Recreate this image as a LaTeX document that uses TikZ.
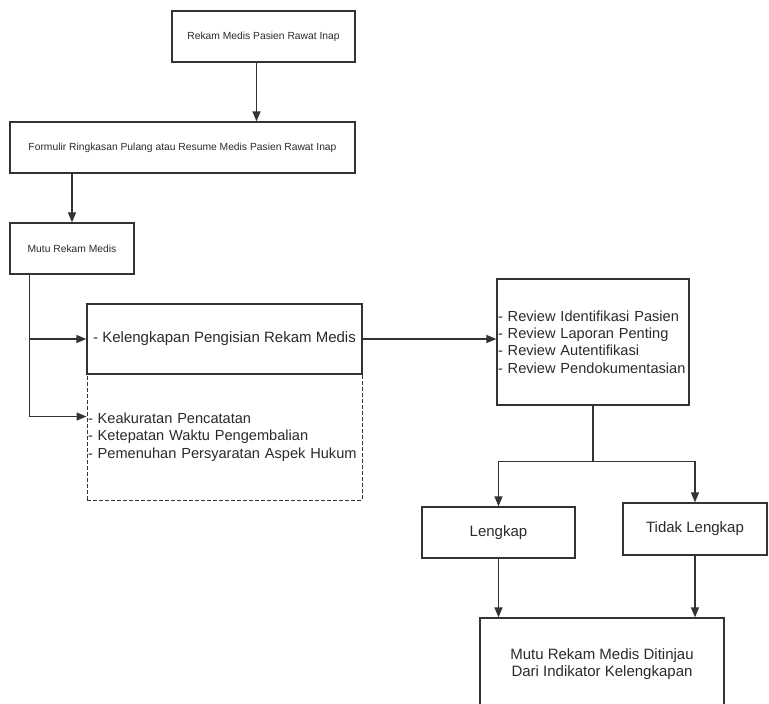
\documentclass[tikz,border=0pt]{standalone}
\usepackage{fontspec}
\setmainfont{Liberation Sans}
\usepackage{xcolor}
\usepackage{tikz}
\usetikzlibrary{arrows.meta, positioning, calc}

\definecolor{linegray}{HTML}{333333}
\definecolor{textgray}{HTML}{2A2A2A}

\begin{document}
\begin{tikzpicture}[
    x=1pt, y=-1pt,
    box/.style={rectangle, draw=linegray, line width=1.3pt, align=center, text=textgray, minimum height=51pt, inner sep=2pt},
    smallbox/.style={box, font=\fontsize{10.3}{12}\selectfont},
    bigbox/.style={box, font=\fontsize{15}{17.5}\selectfont},
    listbox/.style={box, font=\fontsize{14.6}{17.3}\selectfont, align=left, inner xsep=1pt},
    arr/.style={-{Triangle[length=10pt, width=8pt]}, draw=linegray, line width=1.3pt},
    link/.style={draw=linegray, line width=1.3pt}
]
    \useasboundingbox (0,0) rectangle (769,704);
    \clip (0,0) rectangle (769,704);

    % Upper chain
    \node [smallbox, minimum width=183pt] (top) at (263.5,36.5) {Rekam Medis Pasien Rawat Inap};
    \node [smallbox, minimum width=345pt] (formulir) at (182.5,147.5) {Formulir Ringkasan Pulang atau Resume Medis Pasien Rawat Inap};
    \node [smallbox, minimum width=124pt] (mutu) at (72,248.5) {Mutu Rekam Medis};

    % Indicators
    \node [bigbox, minimum width=275pt, minimum height=70pt] (kel) at (224.5,339) {- Kelengkapan Pengisian Rekam Medis};
    \node [listbox, text width=273pt, minimum height=126pt, line width=1pt, dash pattern=on 4pt off 2pt] (list) at (224.5,437)
        {- Keakuratan Pencatatan\\- Ketepatan Waktu Pengembalian\\- Pemenuhan Persyaratan Aspek Hukum};

    % Review
    \node [listbox, text width=190pt, minimum height=126pt] (review) at (593,342)
        {- Review Identifikasi Pasien\\- Review Laporan Penting\\- Review Autentifikasi\\- Review Pendokumentasian};

    % Results
    \node [bigbox, minimum width=153pt] (lengkap) at (498.5,532.5) {Lengkap};
    \node [bigbox, minimum width=144pt, minimum height=52pt] (tidak) at (695,529) {Tidak Lengkap};
    \node [bigbox, minimum width=244pt, minimum height=92pt] (hasil) at (602,664) {Mutu Rekam Medis Ditinjau\\Dari Indikator Kelengkapan};

    % Upper flows
    \coordinate (topout) at ($(top.south)+(-7,0)$);
    \draw[arr] (topout) -- (topout |- formulir.north);
    \draw[arr] (mutu.north |- formulir.south) -- (mutu.north);

    % Mutu to indicators
    \coordinate (trunk) at ($(mutu.south west)+(20,0)$);
    \coordinate (lower) at ($(list.north west)+(0,43)$);
    \draw[link] (trunk) -- (trunk |- lower);
    \draw[arr] (trunk |- kel.west) -- (kel.west);
    \draw[arr] (trunk |- lower) -- (lower);

    % Indicators to review
    \draw[arr] (kel.east) -- (kel.east -| review.west);

    % Review to results
    \coordinate (split) at ($(review.south)+(0,56)$);
    \draw[link] (review.south) -- (split);
    \draw[arr] (split) -| (lengkap.north);
    \draw[arr] (split) -| (tidak.north);

    % Results to conclusion
    \draw[arr] (lengkap.south) -- (lengkap.south |- hasil.north);
    \draw[arr] (tidak.south) -- (tidak.south |- hasil.north);
\end{tikzpicture}
\end{document}
